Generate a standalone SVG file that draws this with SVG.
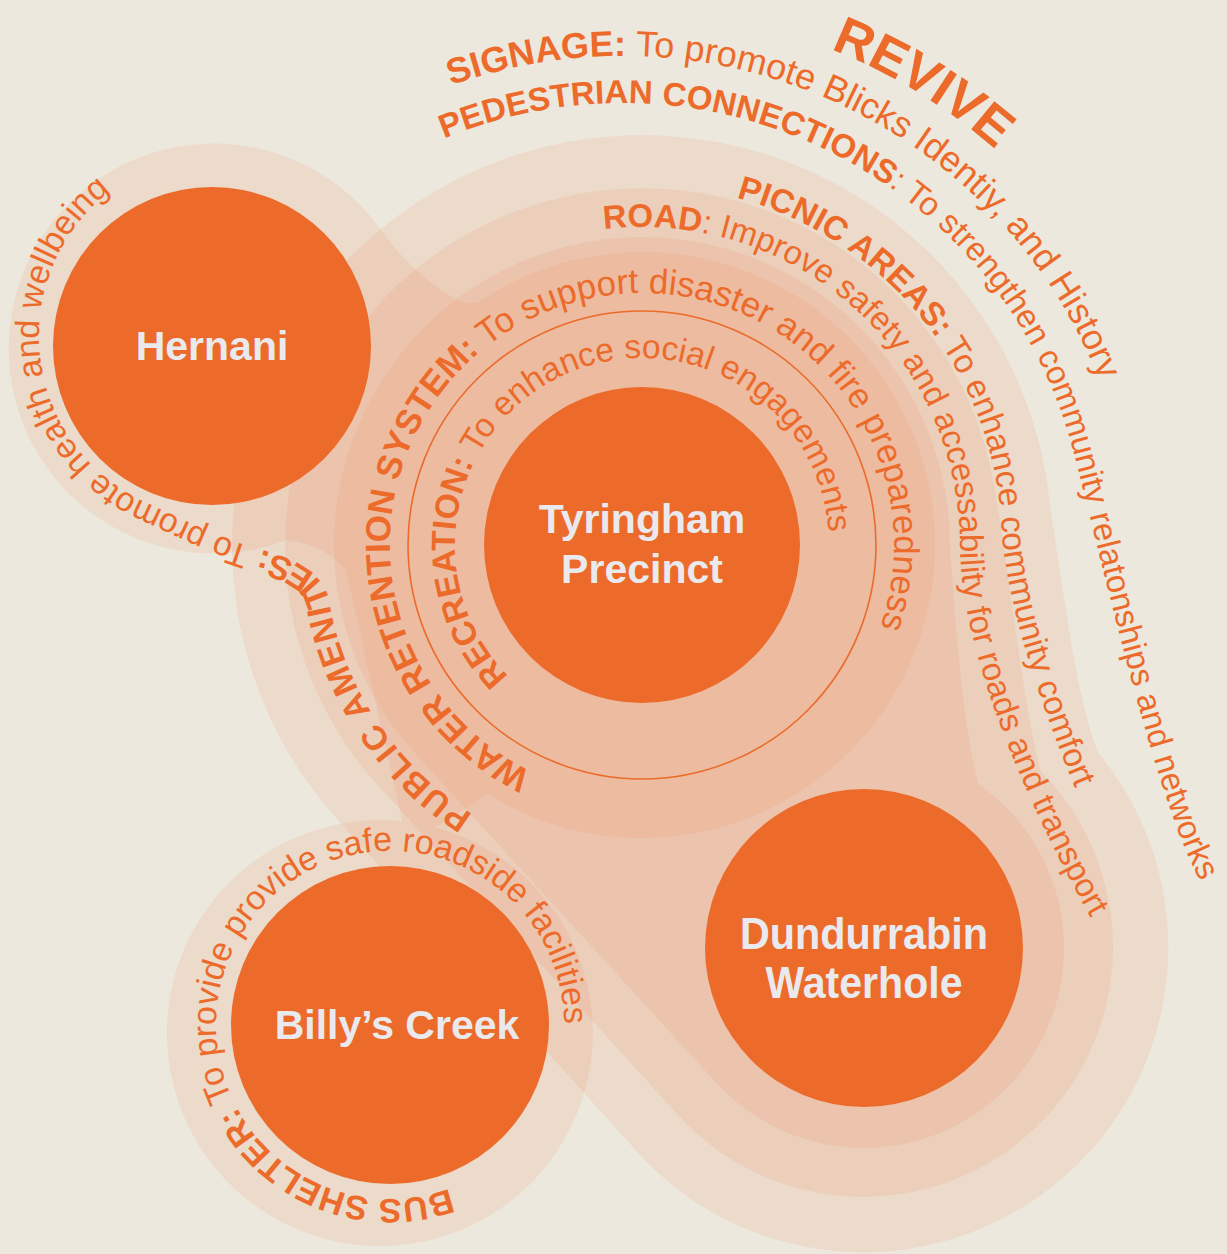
<svg xmlns="http://www.w3.org/2000/svg" width="1227" height="1254" viewBox="0 0 1227 1254">
<style>
.band{fill:#e86e32;fill-opacity:0.1}
.node{fill:#ec6b2b}
.lbl{font-family:"Liberation Sans",Arial,Helvetica,sans-serif;font-weight:700;fill:#e9e9ee;text-anchor:middle}
.cap{font-family:"Liberation Sans",Arial,Helvetica,sans-serif;fill:#ec6b2b}
.b{font-weight:700}
</style>
<defs>
<path id="p-rec" d="M508.6 676.1 A187 187 0 0 1 578 369.3 A187 187 0 0 1 826.2 577.5"/>
<path id="p-wat" d="M531.5 771.5 A252 252 0 0 1 555.8 308.2 A252 252 0 0 1 860.2 671"/>
<path id="p-road" d="M603.8 229.3 A318 318 0 0 1 960 545 C960 660 1040 830 1095 925 L1125 977"/>
<path id="p-pic" d="M736.4 197.6 A360 360 0 0 1 1001.5 526.2 C1006.5 616 1053 735 1080 800 L1105 860"/>
<path id="p-ped" d="M444.2 138.5 A466 466 0 0 1 1072.6 448.4 C1095.9 535.3 1155 802 1200 880 L1225 925"/>
<path id="p-sig" d="M451.3 85.4 A513 513 0 0 1 1118 436.2"/>
<path id="p-rev" d="M830.5 49 A562 562 0 0 1 1083 246.6"/>
<path id="p-pub" d="M472.8 814.2 A318 318 0 0 1 328.8 600.2 C324.5 575.6 300 560 262 550 C225 540 190 523 144.7 501.9 A183 183 0 0 1 144.7 170.1"/>
<path id="p-bus" d="M449.5 1188.5 A174 174 0 0 1 226.5 965.5 A174 174 0 0 1 561.4 1055.2"/>
</defs>
<rect width="1227" height="1254" fill="#ede8dd"/>
<g id="bands">
<path class="band" d="M337.5 819.7 A410 410 0 1 1 1050.4 509.3 C1065 600 1075 690 1097.6 752 A305 305 0 0 1 637.5 1152.3 Z"/>
<path class="band" d="M377.9 785.3 A357 357 0 1 1 993.6 483 C1008 560 1022 700 1040.8 771.2 A250 250 0 1 1 679.1 1116.3 Z"/>
<path class="band" d="M414.6 752.8 A308 308 0 1 1 950 545 C955 620 962 720 978.7 784.2 A200 200 0 1 1 716.4 1083 Z"/>
<path class="band" d="M380.7 229.6 C398 256 455 312 478.2 302.1 A293 293 0 1 1 486.7 793.5 Q460 815 435.1 827.3 A213 213 0 1 1 402.3 821.2 L346 570 Q325 545 287 540 A205 205 0 1 1 380.7 229.6 Z"/>
</g>
<circle id="ring" cx="642" cy="545" r="234" fill="none" stroke="#ec6b2b" stroke-width="1.6"/>
<g id="node-hernani">
<circle class="node" cx="212" cy="346" r="159"/>
<text class="lbl" x="212" y="360" font-size="41">Hernani</text>
</g>
<g id="node-tyringham">
<circle class="node" cx="642" cy="545" r="158"/>
<text class="lbl" x="642" y="533" font-size="41">Tyringham</text>
<text class="lbl" x="642" y="583" font-size="41">Precinct</text>
</g>
<g id="node-dundurrabin">
<circle class="node" cx="864" cy="948" r="159"/>
<text class="lbl" x="864" y="949" font-size="44" textLength="248" lengthAdjust="spacingAndGlyphs">Dundurrabin</text>
<text class="lbl" x="864" y="998" font-size="44" textLength="197" lengthAdjust="spacingAndGlyphs">Waterhole</text>
</g>
<g id="node-billys-creek">
<circle class="node" cx="390" cy="1025" r="159"/>
<text class="lbl" x="397" y="1039" font-size="41">Billy’s Creek</text>
</g>
<g id="captions">
<text class="cap b" font-size="53"><textPath href="#p-rev">REVIVE</textPath></text>
<text class="cap" font-size="36"><textPath href="#p-sig"><tspan class="b">SIGNAGE:</tspan> To promote Blicks Identiy, and History</textPath></text>
<text class="cap" font-size="33"><textPath href="#p-ped"><tspan class="b">PEDESTRIAN CONNECTIONS</tspan>: To strengthen community relatonships and networks</textPath></text>
<text class="cap" font-size="33.5"><textPath href="#p-pic"><tspan class="b">PICNIC AREAS:</tspan> To enhance community comfort</textPath></text>
<text class="cap" font-size="33"><textPath href="#p-road"><tspan class="b">ROAD</tspan>: Improve safety and accessability for roads and transport</textPath></text>
<text class="cap" font-size="35"><textPath href="#p-wat"><tspan class="b">WATER RETENTION SYSTEM:</tspan> To support disaster and fire preparedness</textPath></text>
<text class="cap" font-size="33.5"><textPath href="#p-rec"><tspan class="b">RECREATION:</tspan> To enhance social engagements</textPath></text>
<text class="cap" font-size="34"><textPath href="#p-pub"><tspan class="b" letter-spacing="1.5">PUBLIC AMENITIES:</tspan> To promote health and wellbeing</textPath></text>
<text class="cap" font-size="34"><textPath href="#p-bus"><tspan class="b">BUS SHELTER:</tspan> To provide provide safe roadside facilities</textPath></text>
</g>
</svg>
